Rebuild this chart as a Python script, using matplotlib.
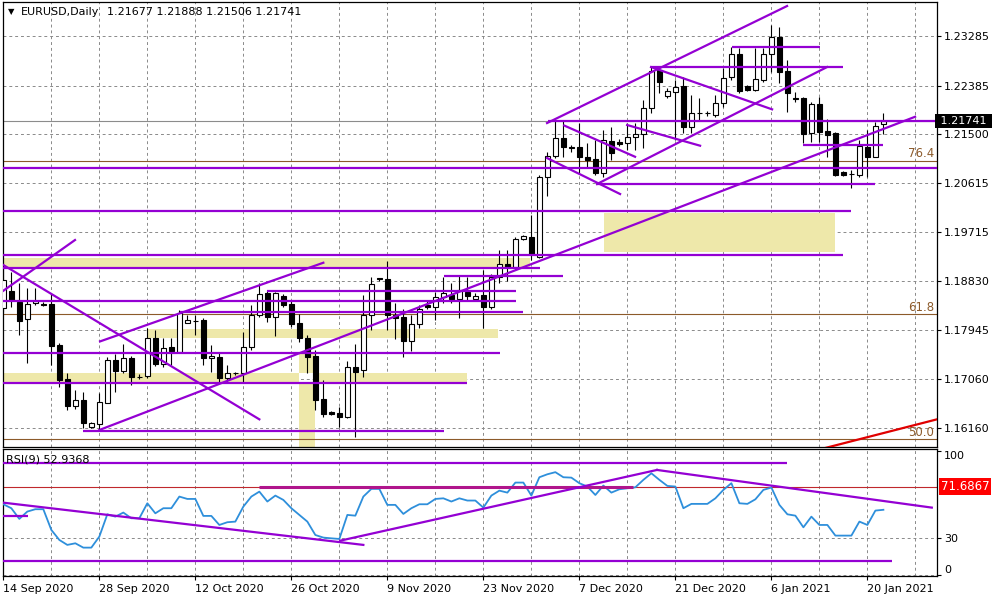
import matplotlib
matplotlib.use("Agg")
import matplotlib.pyplot as plt
import matplotlib.transforms as mtransforms
from matplotlib.patches import Rectangle

# EURUSD daily bars, 14 Sep 2020 .. 22 Jan 2021 (broker with Sunday bars)
opens = [1.18341, 1.18655, 1.18455, 1.18135, 1.18426, 1.18422, 1.18413, 1.17668, 1.17045, 1.16565,
         1.16669, 1.16184, 1.16233, 1.16620, 1.17396, 1.17202, 1.17427, 1.17096, 1.17105, 1.17790,
         1.17318, 1.17626, 1.17546, 1.18073, 1.18113, 1.18122, 1.17427, 1.17445, 1.17063, 1.17160,
         1.17165, 1.17626, 1.18213, 1.18608, 1.18182, 1.18559, 1.18413, 1.18062, 1.17790, 1.17469,
         1.16682, 1.16456, 1.16427, 1.16365, 1.17263, 1.17214, 1.18213, 1.18880, 1.18862, 1.18213,
         1.18182, 1.17746, 1.18050, 1.18395, 1.18353, 1.18546, 1.18577, 1.18510, 1.18637, 1.18510,
         1.18577, 1.18364, 1.18899, 1.19141, 1.19081, 1.19590, 1.19626, 1.19273, 1.20716, 1.21109,
         1.21425, 1.21267, 1.21261, 1.21090, 1.21043, 1.20789, 1.21381, 1.21363, 1.21334, 1.21443,
         1.21503, 1.21970, 1.22666, 1.22194, 1.22272, 1.22376, 1.21636, 1.21890, 1.21885, 1.21848,
         1.22072, 1.22534, 1.22957, 1.22376, 1.22303, 1.22485, 1.22957, 1.23272, 1.22654, 1.22166,
         1.22152, 1.21516, 1.22048, 1.21558, 1.21516, 1.20818, 1.20776, 1.20758, 1.21272, 1.21090,
         1.21677]
highs = [1.19068, 1.19000, 1.18795, 1.18704, 1.18704, 1.18450, 1.18613, 1.17704, 1.17160, 1.16851,
         1.16820, 1.16269, 1.16802, 1.17451, 1.17505, 1.17687, 1.17469, 1.17142, 1.17977, 1.17941,
         1.17795, 1.17795, 1.18304, 1.18213, 1.18213, 1.18159, 1.17668, 1.17546, 1.17305, 1.17178,
         1.17910, 1.18395, 1.18790, 1.18668, 1.18637, 1.18595, 1.18486, 1.18232, 1.17850, 1.17577,
         1.17032, 1.16469, 1.16547, 1.17383, 1.17682, 1.18577, 1.18910, 1.18886, 1.19200, 1.18431,
         1.18322, 1.18213, 1.18395, 1.18468, 1.18637, 1.18910, 1.18795, 1.18922, 1.18910, 1.18613,
         1.19031, 1.18959, 1.19395, 1.19395, 1.19637, 1.19668, 1.20031, 1.20758, 1.21181, 1.21745,
         1.21745, 1.21303, 1.21703, 1.21339, 1.21394, 1.21576, 1.21636, 1.21412, 1.21698, 1.21698,
         1.22121, 1.22726, 1.22726, 1.22339, 1.22485, 1.22545, 1.22212, 1.22157, 1.21921, 1.22212,
         1.22697, 1.23090, 1.23061, 1.22394, 1.23061, 1.23061, 1.23484, 1.23453, 1.22848, 1.22266,
         1.22176, 1.22090, 1.22181, 1.21770, 1.21545, 1.20830, 1.20849, 1.21394, 1.21576, 1.21727,
         1.21888]
lows = [1.18268, 1.18364, 1.17850, 1.17346, 1.18395, 1.18377, 1.17305, 1.16910, 1.16487, 1.16500,
        1.16160, 1.16160, 1.16124, 1.16615, 1.16820, 1.17160, 1.16942, 1.17051, 1.17069, 1.17287,
        1.17269, 1.17305, 1.17541, 1.18062, 1.17850, 1.17305, 1.17183, 1.17002, 1.16978, 1.17123,
        1.17002, 1.17577, 1.18182, 1.18092, 1.17832, 1.18364, 1.17990, 1.17728, 1.17154, 1.16487,
        1.16365, 1.16405, 1.16184, 1.16336, 1.16002, 1.17093, 1.17941, 1.18831, 1.17941, 1.17777,
        1.17444, 1.17565, 1.17972, 1.18322, 1.18122, 1.18426, 1.18431, 1.18153, 1.18486, 1.18468,
        1.17972, 1.18322, 1.18801, 1.18837, 1.19032, 1.19577, 1.19213, 1.19250, 1.20376, 1.21067,
        1.21090, 1.21176, 1.20789, 1.20909, 1.20758, 1.20727, 1.21030, 1.21285, 1.21212, 1.21212,
        1.21243, 1.21890, 1.22243, 1.22157, 1.21394, 1.21516, 1.21527, 1.21758, 1.21830, 1.21817,
        1.21999, 1.22485, 1.22243, 1.22290, 1.22290, 1.22454, 1.22635, 1.22435, 1.21908, 1.22085,
        1.21334, 1.21363, 1.21363, 1.21090, 1.20740, 1.20749, 1.20516, 1.20727, 1.20727, 1.21080,
        1.21506]
closes = [1.18850, 1.18486, 1.18110, 1.18413, 1.18473, 1.18395, 1.17655, 1.17032, 1.16565, 1.16669,
          1.16246, 1.16246, 1.16627, 1.17396, 1.17202, 1.17427, 1.17093, 1.17091, 1.17790, 1.17318,
          1.17608, 1.17565, 1.18244, 1.18122, 1.18108, 1.17427, 1.17469, 1.17063, 1.17165, 1.17169,
          1.17637, 1.18213, 1.18595, 1.18182, 1.18608, 1.18395, 1.18050, 1.17790, 1.17455, 1.16669,
          1.16414, 1.16414, 1.16365, 1.17263, 1.17183, 1.18213, 1.18772, 1.18877, 1.18213, 1.18159,
          1.17746, 1.18050, 1.18317, 1.18364, 1.18546, 1.18608, 1.18499, 1.18668, 1.18559, 1.18564,
          1.18364, 1.18898, 1.19141, 1.19081, 1.19590, 1.19650, 1.19322, 1.20717, 1.21109, 1.21425,
          1.21261, 1.21258, 1.21090, 1.21030, 1.20789, 1.21394, 1.21163, 1.21321, 1.21443, 1.21503,
          1.21970, 1.22654, 1.22454, 1.22290, 1.22352, 1.21625, 1.21879, 1.21894, 1.21879, 1.22072,
          1.22515, 1.22957, 1.22290, 1.22303, 1.22497, 1.22957, 1.23261, 1.22635, 1.22254, 1.22148,
          1.21503, 1.22048, 1.21545, 1.21485, 1.20758, 1.20758, 1.20770, 1.21285, 1.21080, 1.21648,
          1.21741]
rsi = [57.4, 54.2, 45.6, 51.5, 53.4, 53.4, 36.7, 28.6, 24.6, 25.9,
       22.4, 22.4, 31.3, 49.3, 47.4, 50.7, 46.1, 46.1, 58.2, 50.1,
       54.2, 54.2, 63.6, 61.7, 61.7, 48.0, 48.0, 40.7, 42.9, 43.4,
       55.5, 63.6, 67.6, 59.6, 64.4, 60.9, 54.2, 48.8, 43.4, 32.6,
       30.5, 29.9, 29.4, 48.8, 48.2, 63.6, 69.8, 69.8, 56.9, 56.9,
       49.6, 54.2, 57.4, 57.4, 61.7, 62.2, 59.6, 62.2, 60.4, 60.4,
       54.7, 64.4, 68.4, 66.8, 74.9, 74.9, 64.4, 79.2, 81.6, 83.3,
       79.2, 78.9, 74.4, 71.7, 64.9, 72.5, 66.8, 69.5, 70.3, 71.1,
       77.1, 82.4, 77.1, 72.2, 71.7, 54.2, 57.7, 57.7, 57.7, 62.2,
       69.0, 74.4, 58.2, 57.7, 61.4, 69.0, 70.9, 56.9, 49.3, 48.2,
       38.8, 47.4, 40.7, 40.7, 32.1, 32.1, 32.1, 43.4, 40.7, 52.3,
       52.94]

price_ticks = [1.23285, 1.22385, 1.21500, 1.20615, 1.19715, 1.18830, 1.17945, 1.17060, 1.16160]
date_bars = [0, 12, 24, 36, 48, 60, 72, 84, 96, 108]
date_labels = ["14 Sep 2020", "28 Sep 2020", "12 Oct 2020", "26 Oct 2020", "9 Nov 2020",
               "23 Nov 2020", "7 Dec 2020", "21 Dec 2020", "6 Jan 2021", "20 Jan 2021"]

# drawn objects: horizontal lines (bar from, bar to, price)
h_lines = [(-1, 118, 1.20891), (-1, 106.0, 1.20104), (-1, 105.0, 1.19304), (-1, 67.1, 1.19073),
           (55.1, 70.0, 1.18923), (33.0, 64.1, 1.18655), (-1, 64.1, 1.18473), (22.1, 65.0, 1.18268),
           (-1, 62.1, 1.17528), (-1, 58.0, 1.16973), (10.0, 55.1, 1.16111), (68.1, 118, 1.21745),
           (91.1, 102.1, 1.23079), (81.0, 105.0, 1.22726), (100.0, 110.0, 1.21303),
           (74.2, 109.0, 1.20589)]
# trend lines (bar1, price1, bar2, price2)
trend_lines = [(67.96, 1.21703, 97.96, 1.23830), (74.2, 1.20594, 102.96, 1.22721),
               (12.0, 1.16124, 113.96, 1.21817), (12.09, 1.17734, 40.0, 1.19164),
               (0.0, 1.18655, 8.96, 1.19577), (0.0, 1.19123, 32.0, 1.16318),
               (70.1, 1.21658, 78.96, 1.21090), (67.96, 1.21067, 77.09, 1.20413),
               (77.97, 1.21667, 87.09, 1.21291), (80.96, 1.22721, 96.09, 1.21952)]
red_trend = (102.7, 1.15796, 116.7, 1.16318)
# rectangles (bar from, bar to, price low, price high)
zones = [(-1, 65.8, 1.19086, 1.19250), (17.96, 61.8, 1.17804, 1.17959),
         (-1, 36.96, 1.16996, 1.17169), (38.96, 57.96, 1.16996, 1.17169),
         (36.96, 38.96, 1.17169, 1.17517), (36.96, 38.96, 1.15700, 1.16996),
         (75.1, 103.96, 1.19364, 1.20073)]
fib_levels = [1.21018, 1.18226, 1.15954]
fib_labels = ["76.4", "61.8", "50.0"]

rsi_h_lines = [(-1, 98.0, 91.0), (-1, 111.05, 11.6), (-1, 3.05, 48.2)]
rsi_trend = [(-0.41, 59.0, 45.0, 24.6), (42.1, 28.0, 81.7, 85.1), (81.7, 85.1, 116.05, 54.7)]
rsi_level = 71.6867

purple = '#9400D3'
brown = '#8C5A2A'
fs = 8
grid_kw = dict(color='#8a8a8a', lw=0.7, ls=(0, (3, 3)), zorder=0.5)

fig = plt.figure(figsize=(10, 6), dpi=100)
ax = fig.add_axes([0.003, 1 - 447 / 600, 0.934, 445 / 600])
ax2 = fig.add_axes([0.003, 1 - 576 / 600, 0.934, 127 / 600])

x0, x1 = -0.04, 116.7
for a in (ax, ax2):
    a.set_xlim(x0, x1)
    for b in range(6, 117, 6):
        a.axvline(b, **grid_kw)
    for s in a.spines.values():
        s.set_color('black')
        s.set_linewidth(0.9)

# ---- price panel
ax.set_ylim(1.15815, 1.23903)
for p in price_ticks:
    ax.axhline(p, **grid_kw)

for lo, hi, pl, ph in zones:
    ax.add_patch(Rectangle((lo, pl), hi - lo, ph - pl, fc='#EEE8AA', ec='none', zorder=1))

for p in fib_levels:
    ax.axhline(p, color=brown, lw=0.8, zorder=2)
trans = mtransforms.blended_transform_factory(ax.transAxes, ax.transData)
for p, t in zip(fib_levels, fib_labels):
    ax.text(0.997, p + 0.0001, t, transform=trans, ha='right', va='bottom',
            color=brown, fontsize=fs + 0.5, zorder=6)

ax.axhline(closes[-1], color='#8c8c8c', lw=0.8, zorder=2)

for i in range(len(opens)):
    o, h, l, c = opens[i], highs[i], lows[i], closes[i]
    ax.vlines(i, l, h, color='black', lw=0.8, zorder=3)
    fc = 'white' if c >= o else 'black'
    ax.add_patch(Rectangle((i - 0.31, min(o, c)), 0.62, max(abs(c - o), 0.000015),
                           fc=fc, ec='black', lw=0.8, zorder=4))

for b0, b1, p in h_lines:
    ax.plot([b0, b1], [p, p], color=purple, lw=1.6, zorder=5, solid_capstyle='butt')
for b0, p0, b1, p1 in trend_lines:
    ax.plot([b0, b1], [p0, p1], color=purple, lw=1.6, zorder=5)
ax.plot([red_trend[0], red_trend[2]], [red_trend[1], red_trend[3]], color='#E00000', lw=1.6, zorder=5)

ax.yaxis.tick_right()
ax.set_yticks(price_ticks)
ax.set_yticklabels(['%.5f' % p for p in price_ticks])
ax.tick_params(axis='y', direction='out', length=3, width=0.8, pad=2, labelsize=fs)
ax.set_xticks([])

ax.text(1.0, closes[-1], ' 1.21741 ', transform=trans, ha='left', va='center', color='white',
        fontsize=fs, zorder=7, bbox=dict(boxstyle='square,pad=0.15', fc='black', ec='none'),
        clip_on=False)

# ---- RSI panel
ax2.set_ylim(-0.5, 102)
ax2.axhline(30, **grid_kw)
ax2.axhline(0, **grid_kw)
ax2.axhline(rsi_level, color='#C0282D', lw=0.8, zorder=2)
ax2.plot([31.96, 78.7], [71.4, 71.4], color='#B0158C', lw=2.2, zorder=4, solid_capstyle='butt')
ax2.plot(range(len(rsi)), rsi, color='#2E8FDB', lw=1.3, zorder=3)
for b0, b1, v in rsi_h_lines:
    ax2.plot([b0, b1], [v, v], color=purple, lw=1.6, zorder=5, solid_capstyle='butt')
for b0, v0, b1, v1 in rsi_trend:
    ax2.plot([b0, b1], [v0, v1], color=purple, lw=1.6, zorder=5)

ax2.yaxis.tick_right()
ax2.set_yticks([100, 30, 0])
ax2.set_yticklabels(['100', '30', '0'])
ax2.tick_params(axis='y', direction='out', length=3, width=0.8, pad=2, labelsize=fs)
labs = ax2.get_yticklabels()
labs[0].set_va('top')
labs[2].set_va('bottom')
trans2 = mtransforms.blended_transform_factory(ax2.transAxes, ax2.transData)
ax2.text(1.004, rsi_level, '71.6867', transform=trans2, ha='left', va='center', color='white',
         fontsize=fs + 0.5, zorder=7, bbox=dict(boxstyle='square,pad=0.15', fc='#FF0000', ec='none'),
         clip_on=False)

ax2.set_xticks(date_bars)
ax2.set_xticklabels(date_labels)
ax2.tick_params(axis='x', direction='out', length=3, width=0.8, pad=3, labelsize=fs)
for t in ax2.get_xticklabels():
    t.set_ha('left')

# ---- header texts
fig.text(0.008, 1 - 12 / 600, '\u25BC', fontsize=6, va='center', ha='left')
fig.text(0.021, 1 - 12 / 600, 'EURUSD,Daily', fontsize=fs, va='center', ha='left')
fig.text(0.107, 1 - 12 / 600, '1.21677 1.21888 1.21506 1.21741', fontsize=fs, va='center', ha='left')
fig.text(0.006, 1 - 460 / 600, 'RSI(9) 52.9368', fontsize=fs, va='center', ha='left', zorder=1)

fig.savefig('out.png', dpi=100)
